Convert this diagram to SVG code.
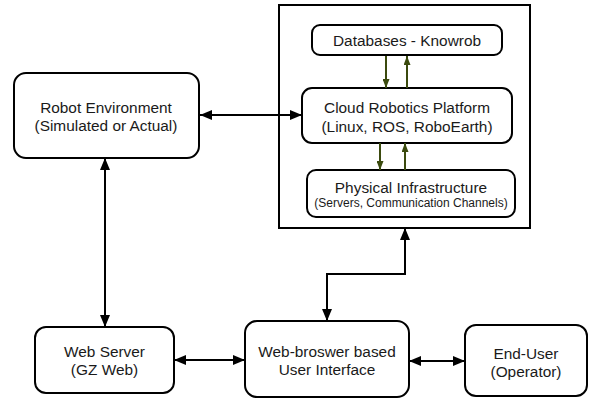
<svg xmlns="http://www.w3.org/2000/svg" width="589" height="398" viewBox="0 0 589 398">
<style>
.box{fill:#fff;stroke:#000;stroke-width:2}
.t{font-family:"Liberation Sans",Arial,sans-serif;font-size:15.4px;fill:#1a1a1a;text-anchor:middle}
.s{font-size:12px}
.c{fill:none;stroke:#000;stroke-width:2}
.g{fill:none;stroke:#3b4a0e;stroke-width:2}
</style>
<defs>
<marker id="a" viewBox="0 0 12 10" markerWidth="12" markerHeight="10" refX="12" refY="5" orient="auto-start-reverse" markerUnits="userSpaceOnUse"><path d="M0,0 L12,5 L0,10 z" fill="#000"/></marker>
<marker id="ga" viewBox="0 0 9 7" markerWidth="9" markerHeight="7" refX="9" refY="3.5" orient="auto" markerUnits="userSpaceOnUse"><path d="M0,0 L9,3.5 L0,7 z" fill="#3b4a0e"/></marker>
</defs>
<rect width="589" height="398" fill="#fff"/>
<g id="cloud-container"><rect x="279" y="5" width="251" height="223" fill="#fff" stroke="#000" stroke-width="2"/></g>
<g id="databases"><rect class="box" x="312" y="25" width="190" height="30" rx="8"/><text class="t" x="407" y="46">Databases - Knowrob</text></g>
<g id="cloud-platform"><rect class="box" x="302" y="88" width="210" height="55" rx="10"/><text class="t" x="407" y="113">Cloud Robotics Platform</text><text class="t" x="407" y="132">(Linux, ROS, RoboEarth)</text></g>
<g id="physical"><rect class="box" x="307" y="170" width="208" height="47" rx="9"/><text class="t" x="411" y="193">Physical Infrastructure</text><text class="t s" x="411" y="207">(Servers, Communication Channels)</text></g>
<g id="robot-env"><rect class="box" x="14" y="73" width="185" height="85" rx="12"/><text class="t" x="106" y="113">Robot Environment</text><text class="t" x="106" y="131">(Simulated or Actual)</text></g>
<g id="web-server"><rect class="box" x="35" y="327" width="139" height="66" rx="11"/><text class="t" x="104.5" y="357">Web Server</text><text class="t" x="104.5" y="375">(GZ Web)</text></g>
<g id="web-ui"><rect class="box" x="245" y="321" width="164" height="76" rx="12"/><text class="t" x="327" y="357">Web-broswer based</text><text class="t" x="327" y="375">User Interface</text></g>
<g id="end-user"><rect class="box" x="465" y="325" width="122" height="71" rx="11"/><text class="t" x="526" y="359">End-User</text><text class="t" x="526" y="377">(Operator)</text></g>
<g id="connectors">
<line class="c" x1="200" y1="115" x2="302" y2="115" marker-start="url(#a)" marker-end="url(#a)"/>
<line class="c" x1="105" y1="158" x2="105" y2="327" marker-start="url(#a)" marker-end="url(#a)"/>
<line class="c" x1="174" y1="360" x2="245" y2="360" marker-start="url(#a)" marker-end="url(#a)"/>
<line class="c" x1="409" y1="361" x2="465" y2="361" marker-start="url(#a)" marker-end="url(#a)"/>
<path class="c" d="M327,321 V274 H405 V228" marker-start="url(#a)" marker-end="url(#a)"/>
<line class="g" x1="386" y1="56" x2="386" y2="88" marker-end="url(#ga)"/>
<line class="g" x1="407" y1="88" x2="407" y2="56" marker-end="url(#ga)"/>
<line class="g" x1="380" y1="143" x2="380" y2="170" marker-end="url(#ga)"/>
<line class="g" x1="405" y1="170" x2="405" y2="143" marker-end="url(#ga)"/>
</g>
</svg>
